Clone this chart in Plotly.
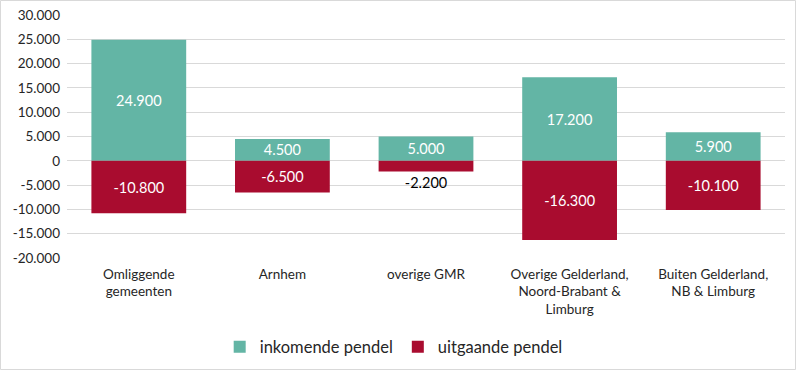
import plotly.graph_objects as go

categories = ["Omliggende<br>gemeenten", "Arnhem", "overige GMR",
              "Overige Gelderland,<br>Noord-Brabant &<br>Limburg",
              "Buiten Gelderland,<br>NB & Limburg"]
inkomend = [24900, 4500, 5000, 17200, 5900]
uitgaand = [-10800, -6500, -2200, -16300, -10100]
tick_vals = [30000, 25000, 20000, 15000, 10000, 5000, 0, -5000, -10000, -15000, -20000]


def fmt(v):
    s = f"{abs(v):,}".replace(",", ".")
    return ("-" if v < 0 else "") + s


W, H = 796, 370
L, R, T, B = 67, 11, 15, 112
FONT = "Lato, Open Sans, Liberation Sans, Arial"

fig = go.Figure()
fig.add_trace(go.Bar(
    x=categories, y=inkomend, name="inkomende pendel",
    marker=dict(color="#63B5A5", line=dict(width=0)),
    text=[fmt(v) for v in inkomend], textposition="inside",
    insidetextanchor="middle", textangle=0, constraintext="none",
    insidetextfont=dict(color="white", size=14.5, family=FONT),
))
fig.add_trace(go.Bar(
    x=categories, y=uitgaand, name="uitgaande pendel",
    marker=dict(color="#A90C2F", line=dict(width=0)),
    text=[fmt(v) for v in uitgaand], textposition="auto",
    insidetextanchor="middle", textangle=0, constraintext="none",
    insidetextfont=dict(color="white", size=14.5, family=FONT),
    outsidetextfont=dict(color="black", size=14.5, family=FONT),
))

fig.update_layout(
    width=W, height=H,
    margin=dict(l=L, r=R, t=T, b=B, autoexpand=False),
    barmode="relative", bargap=0.34,
    plot_bgcolor="white", paper_bgcolor="white",
    font=dict(family=FONT, size=13, color="#262626"),
    showlegend=True,
    legend=dict(orientation="h", x=0.455, xanchor="center", y=-0.366, yanchor="middle",
                font=dict(size=16.5, family=FONT, color="#262626"),
                traceorder="normal"),
    xaxis=dict(showgrid=False, showline=False, ticks="", tickangle=0, automargin=False,
               ticklabelstandoff=6,
               tickfont=dict(size=13.5, family=FONT)),
    yaxis=dict(range=[-20000, 30000], tickvals=tick_vals,
               ticktext=[fmt(v) for v in tick_vals], automargin=False,
               showgrid=True, gridcolor="#D9D9D9", gridwidth=1,
               zeroline=True, zerolinecolor="#D9D9D9", zerolinewidth=1,
               showline=False, ticks="", ticklabelstandoff=6,
               tickfont=dict(size=13.5, family=FONT)),
)

pw = W - L - R
ph = H - T - B
fig.add_shape(type="rect", xref="paper", yref="paper",
              x0=(-L + 0.5) / pw, x1=(pw + R - 0.5) / pw,
              y0=(-B + 0.5) / ph, y1=(ph + T - 0.5) / ph,
              line=dict(color="#D9D9D9", width=1), layer="below")

fig.write_html("out.html", config={"displayModeBar": False},
               post_script="document.body.style.margin='0';")
